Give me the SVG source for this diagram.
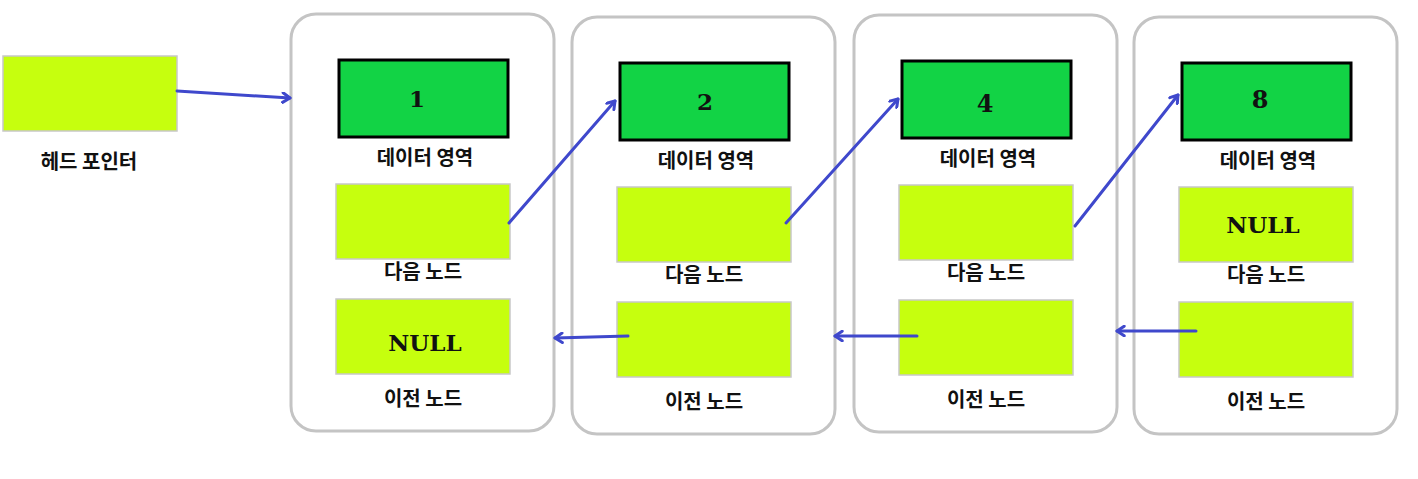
<svg xmlns="http://www.w3.org/2000/svg" width="1418" height="479" viewBox="0 0 1418 479">
<defs>
<style>
.box{fill:#fff;stroke:#c4c4c4;stroke-width:3}
.data{fill:#12d345;stroke:#000;stroke-width:3}
.ptr{fill:#c6ff0e;stroke:#c8c8c8;stroke-width:1.5}
.lbl{font-family:"Noto Sans CJK KR","Noto Sans",sans-serif;font-weight:bold;font-size:20px;fill:#111;text-anchor:middle}
.val{font-family:"DejaVu Serif",serif;font-weight:bold;font-size:23px;fill:#111;text-anchor:middle}
.arr{stroke:#3f48cc;stroke-width:3;fill:none;stroke-linecap:round;marker-end:url(#ah)}
</style>
<marker id="ah" viewBox="0 0 10 10" refX="8" refY="5" markerWidth="4" markerHeight="4" orient="auto" markerUnits="strokeWidth">
<path d="M2,1 L8,5 L2,9" fill="none" stroke="#3f48cc" stroke-width="2.5" stroke-linecap="round" stroke-linejoin="round"/>
</marker>
</defs>
<rect width="1418" height="479" fill="#fff"/>
<g id="head">
<rect class="ptr" x="3" y="56" width="174" height="75"/>
<text class="lbl" x="89" y="169">헤드 포인터</text>
</g>
<g id="node1">
<rect class="box" x="291" y="14" width="263" height="417" rx="25"/>
<rect class="data" x="339" y="60" width="169" height="77"/>
<text class="val" x="417" y="107">1</text>
<text class="lbl" x="425" y="165">데이터 영역</text>
<rect class="ptr" x="336" y="184" width="174" height="75"/>
<text class="lbl" x="423" y="279">다음 노드</text>
<rect class="ptr" x="336" y="299" width="174" height="75"/>
<text class="val" x="425" y="351">NULL</text>
<text class="lbl" x="423" y="406">이전 노드</text>
</g>
<g id="node2">
<rect class="box" x="572" y="17" width="263" height="417" rx="25"/>
<rect class="data" x="620" y="63" width="169" height="77"/>
<text class="val" x="705" y="110">2</text>
<text class="lbl" x="706" y="168">데이터 영역</text>
<rect class="ptr" x="617" y="187" width="174" height="75"/>
<text class="lbl" x="704" y="282">다음 노드</text>
<rect class="ptr" x="617" y="302" width="174" height="75"/>
<text class="lbl" x="704" y="409">이전 노드</text>
</g>
<g id="node3">
<rect class="box" x="854" y="15" width="263" height="417" rx="25"/>
<rect class="data" x="902" y="61" width="169" height="77"/>
<text class="val" x="985" y="112" style="font-size:24px">4</text>
<text class="lbl" x="988" y="166">데이터 영역</text>
<rect class="ptr" x="899" y="185" width="174" height="75"/>
<text class="lbl" x="986" y="280">다음 노드</text>
<rect class="ptr" x="899" y="300" width="174" height="75"/>
<text class="lbl" x="986" y="407">이전 노드</text>
</g>
<g id="node4">
<rect class="box" x="1134" y="17" width="263" height="417" rx="25"/>
<rect class="data" x="1182" y="63" width="169" height="77"/>
<text class="val" x="1260" y="108" style="font-size:24px">8</text>
<text class="lbl" x="1268" y="168">데이터 영역</text>
<rect class="ptr" x="1179" y="187" width="174" height="75"/>
<text class="val" x="1263" y="233">NULL</text>
<text class="lbl" x="1266" y="282">다음 노드</text>
<rect class="ptr" x="1179" y="302" width="174" height="75"/>
<text class="lbl" x="1266" y="409">이전 노드</text>
</g>
<g id="connectors">
<line class="arr" x1="177" y1="91" x2="290" y2="98"/>
<line class="arr" x1="509" y1="223" x2="615" y2="101"/>
<line class="arr" x1="786" y1="223" x2="898" y2="99"/>
<line class="arr" x1="1075" y1="226" x2="1178" y2="95"/>
<line class="arr" x1="628" y1="336" x2="555" y2="338"/>
<line class="arr" x1="917" y1="336" x2="835" y2="336"/>
<line class="arr" x1="1196" y1="331" x2="1117" y2="331"/>
</g>
</svg>
